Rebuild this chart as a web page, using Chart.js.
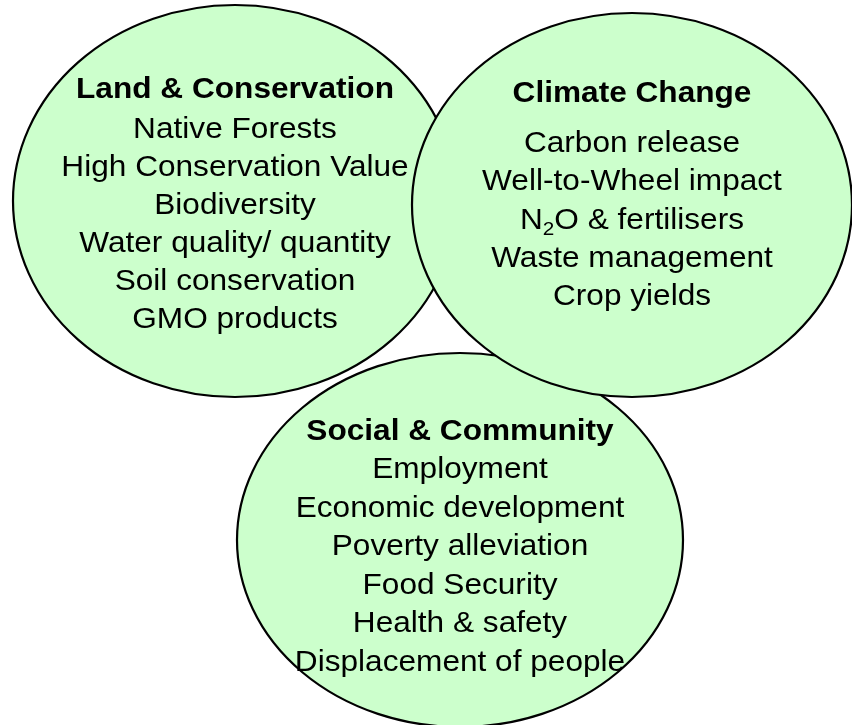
<!DOCTYPE html>
<html>
<head>
<meta charset="utf-8">
<script src="https://cdn.jsdelivr.net/npm/chart.js@4/dist/chart.umd.min.js"></script>
<style>
  html, body { margin: 0; padding: 0; background: #fff; }
  #wrap { width: 852px; height: 725px; }
</style>
</head>
<body>
<div id="wrap"><canvas id="myChart" width="852" height="725"></canvas></div>
<script>
// 1 DATA
const groups = ['Land & Conservation', 'Climate Change', 'Social & Community'];
const centerX = [235, 632, 460];
const centerY = [201, 205, 540];
const radiusX = [222, 220, 223];
const radiusY = [196, 192, 187];
// "_2" marks a subscript 2
const items = [
    ['Native Forests', 'High Conservation Value', 'Biodiversity', 'Water quality/ quantity', 'Soil conservation', 'GMO products'],
    ['Carbon release', 'Well-to-Wheel impact', 'N_2O & fertilisers', 'Waste management', 'Crop yields'],
    ['Employment', 'Economic development', 'Poverty alleviation', 'Food Security', 'Health & safety', 'Displacement of people']
];

// 2 LAYOUT (text baselines in data units)
const titleBase = [98, 102, 440];
const firstBase = [138, 152, 478];
const lineStep = [38, 38.3, 38.5];
const drawOrder = [0, 2, 1];
const FONT = '"Liberation Sans", Arial, sans-serif';
const SIZE = 29;
const STRETCH = 1.09; // text in the picture is a little wide

// draw a line with optional subscript, centred on 0
function drawRich(ctx, str, y, size){
    const parts = str.split(/_(\d)/);
    const mainFont = size + 'px ' + FONT;
    const subFont = Math.round(size * 0.65) + 'px ' + FONT;
    let total = 0;
    parts.forEach((p, i)=>{
        ctx.font = i % 2 ? subFont : mainFont;
        total += ctx.measureText(p).width;
    });
    let cx = -total / 2;
    ctx.textAlign = 'left';
    parts.forEach((p, i)=>{
        const sub = i % 2 === 1;
        ctx.font = sub ? subFont : mainFont;
        ctx.fillText(p, cx, sub ? y + size * 0.22 : y);
        cx += ctx.measureText(p).width;
    });
}

// 3 ELLIPSE PLUGIN
const ellipsePlugin = {
    id: 'ellipses',
    afterDatasetsDraw(chart){
        const {ctx, scales:{x, y}} = chart;
        ctx.save();
        drawOrder.forEach(i=>{
            const px = x.getPixelForValue(centerX[i]);
            const py = y.getPixelForValue(centerY[i]);
            const rx = Math.abs(x.getPixelForValue(centerX[i] + radiusX[i]) - px);
            const ry = Math.abs(y.getPixelForValue(centerY[i] + radiusY[i]) - py);
            ctx.beginPath();
            ctx.ellipse(px, py, rx, ry, 0, 0, Math.PI * 2);
            ctx.fillStyle = '#ccffcc';
            ctx.fill();
            ctx.lineWidth = 2.2;
            ctx.strokeStyle = '#000';
            ctx.stroke();

            ctx.save();
            ctx.translate(px, 0);
            ctx.scale(STRETCH, 1);
            ctx.fillStyle = '#000';
            ctx.textBaseline = 'alphabetic';
            ctx.textAlign = 'center';
            ctx.font = 'bold ' + SIZE + 'px ' + FONT;
            ctx.fillText(groups[i], 0, y.getPixelForValue(titleBase[i]));
            items[i].forEach((t, k)=>{
                drawRich(ctx, t, y.getPixelForValue(firstBase[i] + k * lineStep[i]), SIZE);
            });
            ctx.restore();
        });
        ctx.restore();
    }
};

// 4 CHART
const ctx = document.querySelector('#myChart').getContext('2d');
const myChart = new Chart(ctx, {
    type: 'scatter',
    data: {
        labels: groups,
        datasets: [{
            label: 'Areas',
            data: centerX.map((cx, i)=>({x: cx, y: centerY[i]})),
            pointRadius: 0
        }]
    },
    options: {
        responsive: false,
        animation: false,
        devicePixelRatio: 1,
        layout: {padding: 0},
        plugins: {legend: {display: false}, tooltip: {enabled: false}},
        scales: {
            x: {type: 'linear', min: 0, max: 852, display: false},
            y: {type: 'linear', min: 0, max: 725, reverse: true, display: false}
        }
    },
    plugins: [ellipsePlugin]
});
</script>
</body>
</html>
